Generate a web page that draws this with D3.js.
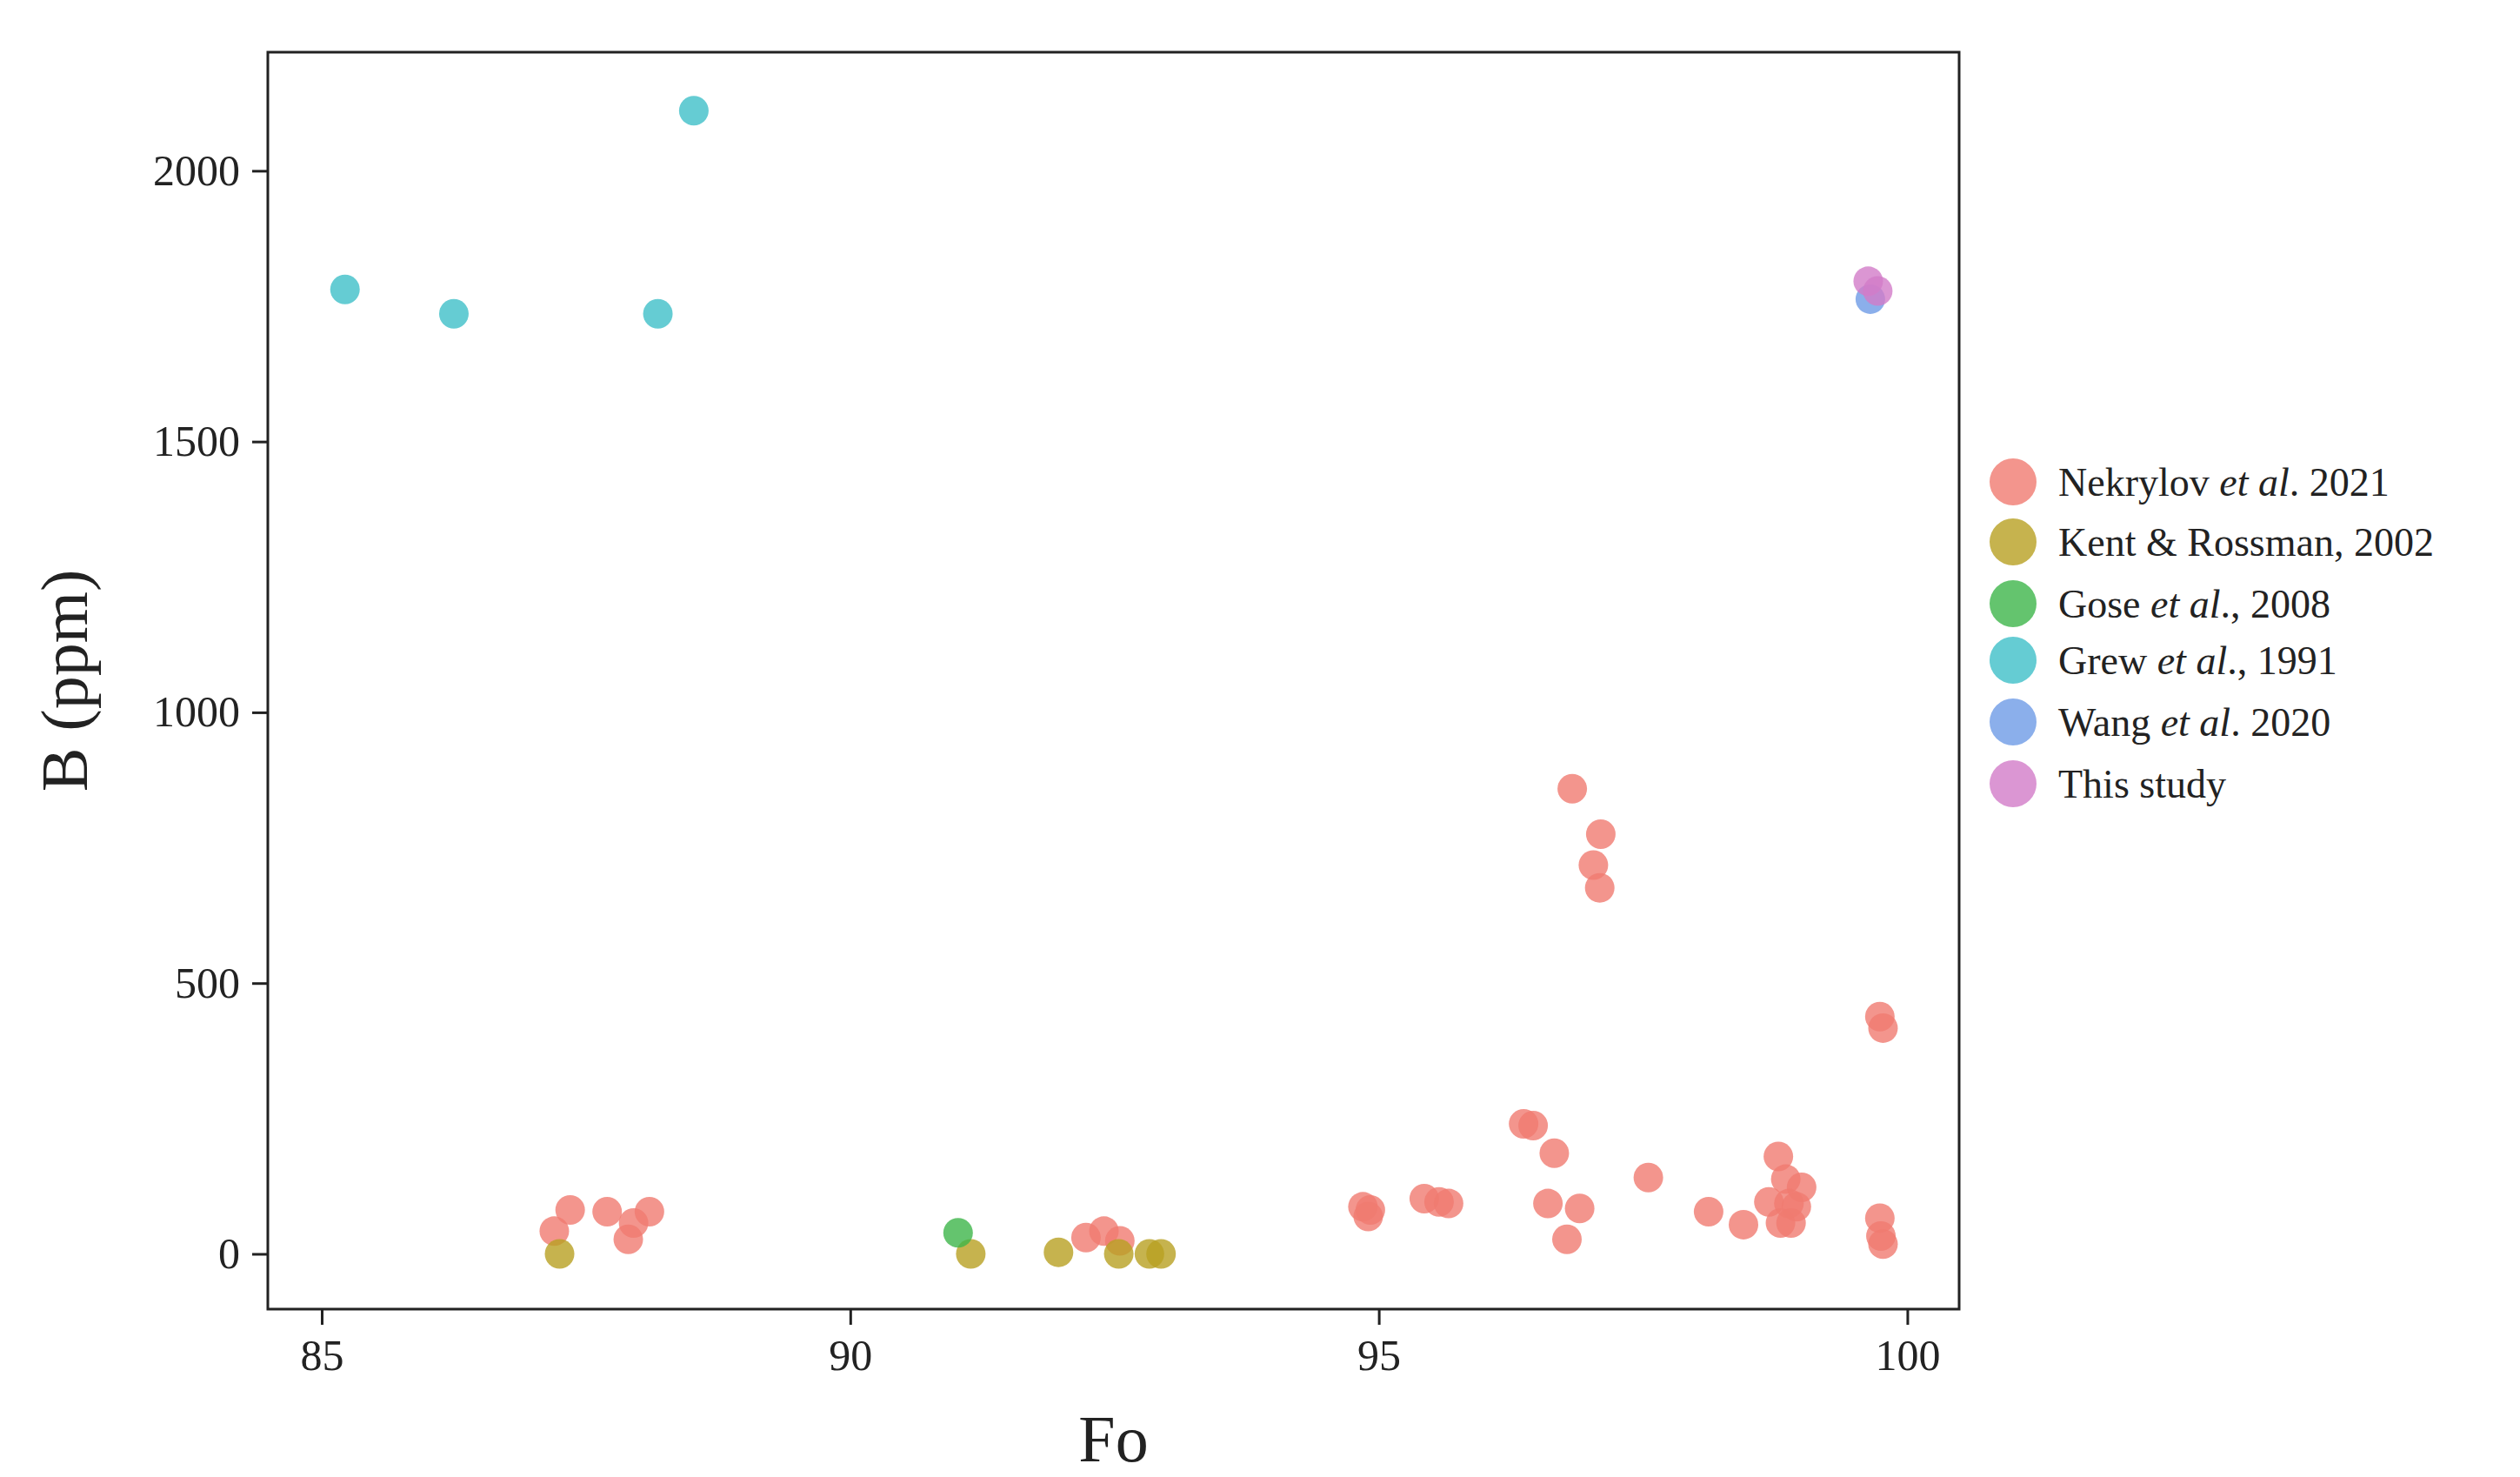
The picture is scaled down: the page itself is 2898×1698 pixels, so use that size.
<!DOCTYPE html>
<html><head><meta charset="utf-8">
<script src="https://cdn.jsdelivr.net/npm/d3@7"></script>
<style>body{margin:0;background:#fff}</style>
</head><body>
<svg id="chart" width="2898" height="1698"></svg>
<script>
var seriesNames = ["Nekrylov et al. 2021", "Kent & Rossman, 2002", "Gose et al., 2008", "Grew et al., 1991", "Wang et al. 2020", "This study"];
var seriesColors = ["#F07A70", "#B8A022", "#3DB54A", "#3EBFC8", "#6E9BE6", "#D27CC8"];

var nekrylovFo = [87.2,87.35,87.7,87.9,87.95,88.1,92.23,92.4,92.55,94.85,94.9,94.92,95.43,95.57,95.66,96.37,96.46,96.66,96.6,96.78,96.9,96.83,97.1,97.03,97.09,97.55,98.12,98.45,98.78,98.85,98.69,99.0,98.95,98.8,98.9,98.88,99.74,99.77,99.74,99.75,99.77];
var nekrylovB  = [42,81,78,27,57,78,30,42,24,87,69,81,102,96,93,240,237,186,93,27,84,859,775,718,676,141,78,54,180,138,96,123,87,57,57,93,438,417,66,33,18];
var kentFo = [87.25,91.14,91.97,92.54,92.83,92.94];
var kentB  = [0,0,3,0,0,0];
var goseFo = [91.02];
var goseB  = [39];
var grewFo = [85.22,86.25,88.18,88.52];
var grewB  = [1781,1736,1736,2111];
var wangFo = [99.65];
var wangB  = [1763];
var studyFo = [99.63,99.72];
var studyB  = [1796,1778];

var xTicks = [85, 90, 95, 100];
var yTicks = [0, 500, 1000, 1500, 2000];

var groups = [[nekrylovFo,nekrylovB],[kentFo,kentB],[goseFo,goseB],[grewFo,grewB],[wangFo,wangB],[studyFo,studyB]];

var svg = d3.select("#chart");
var pLeft = 308, pRight = 2253, pTop = 60, pBottom = 1505;
var x = d3.scaleLinear().domain([84.49, 100.49]).range([pLeft, pRight]);
var y = d3.scaleLinear().domain([-102, 2219]).range([pBottom, pTop]);
var font = "'Liberation Serif', 'Times New Roman', serif";

groups.forEach(function(g, gi){
	var pts = g[0].map(function(f, i){return {fo: f, b: g[1][i]};});
	svg.append("g").selectAll("circle").data(pts).enter().append("circle")
		.attr("cx", function(d){return x(d.fo);})
		.attr("cy", function(d){return y(d.b);})
		.attr("r", 17)
		.attr("fill", seriesColors[gi])
		.attr("fill-opacity", 0.8);
});

svg.append("rect").attr("x", pLeft).attr("y", pTop).attr("width", pRight-pLeft).attr("height", pBottom-pTop)
	.attr("fill", "none").attr("stroke", "#222").attr("stroke-width", 3);

var xAxis = svg.append("g").attr("transform", "translate(0," + pBottom + ")")
	.call(d3.axisBottom(x).tickValues(xTicks).tickFormat(d3.format("d")).tickSize(18).tickPadding(16));
var yAxis = svg.append("g").attr("transform", "translate(" + pLeft + ",0)")
	.call(d3.axisLeft(y).tickValues(yTicks).tickFormat(d3.format("d")).tickSize(18).tickPadding(14));
[xAxis, yAxis].forEach(function(a){
	a.select(".domain").remove();
	a.selectAll("line").attr("stroke", "#222").attr("stroke-width", 3);
	a.selectAll("text").attr("font-family", font).attr("font-size", 50).attr("fill", "#222");
});

svg.append("text").attr("x", (pLeft+pRight)/2).attr("y", 1680).attr("text-anchor", "middle")
	.attr("font-family", font).attr("font-size", 76).attr("fill", "#222").text("Fo");
svg.append("text").attr("transform", "translate(100," + ((pTop+pBottom)/2) + ") rotate(-90)")
	.attr("text-anchor", "middle").attr("font-family", font).attr("font-size", 76).attr("fill", "#222").text("B (ppm)");

var legendParts = [["Nekrylov ", "et al", ". 2021"], ["Kent & Rossman, 2002", "", ""], ["Gose ", "et al", "., 2008"],
	["Grew ", "et al", "., 1991"], ["Wang ", "et al", ". 2020"], ["This study", "", ""]];
var legendY = [554, 623, 694, 759, 830, 901];
var leg = svg.append("g").selectAll("g").data(legendParts).enter().append("g")
	.attr("transform", function(d, i){return "translate(2315," + legendY[i] + ")";});
leg.append("circle").attr("r", 27).attr("fill", function(d, i){return seriesColors[i];}).attr("fill-opacity", 0.8);
var lt = leg.append("text").attr("x", 52).attr("y", 16).attr("font-family", font).attr("font-size", 46).attr("fill", "#222");
lt.append("tspan").text(function(d){return d[0];});
lt.append("tspan").attr("font-style", "italic").text(function(d){return d[1];});
lt.append("tspan").text(function(d){return d[2];});
</script>
</body></html>
